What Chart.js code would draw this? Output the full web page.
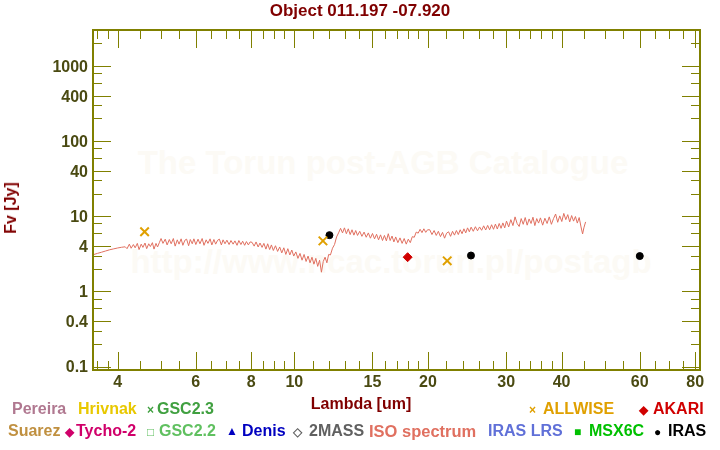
<!DOCTYPE html>
<html><head><meta charset="utf-8">
<script src="https://cdn.jsdelivr.net/npm/chart.js@4/dist/chart.umd.min.js"></script>
<style>
html,body{margin:0;padding:0;background:#fff;}
#wrap{position:relative;width:720px;height:450px;overflow:hidden;font-family:"Liberation Sans",Arial,sans-serif;font-weight:bold;}
#c{position:absolute;left:0;top:0;}
.t{position:absolute;white-space:nowrap;line-height:20px;font-size:16px;}
.s{position:absolute;white-space:nowrap;line-height:20px;font-size:12px;}
.wm{position:absolute;white-space:nowrap;color:rgb(252,250,245);font-size:33px;line-height:40px;transform:translate(-50%,-50%);}
</style></head>
<body><div id="wrap">
<div class="wm" style="left:383px;top:163px">The Torun post-AGB Catalogue</div>
<div class="wm" style="left:391px;top:262px">http://www.ncac.torun.pl/postagb</div>
<canvas id="c" width="720" height="450" style="width:720px;height:450px"></canvas>
<div class="t" style="left:0;width:720px;text-align:center;top:1px;font-size:17px;color:#800000">Object 011.197 -07.920</div>
<div class="t" style="left:11px;top:208px;color:#800000;transform:translate(-50%,-50%) rotate(-90deg)">Fv [Jy]</div>
<div class="t" style="left:361px;top:404px;color:#800000;transform:translate(-50%,-50%)">Lambda [um]</div>

<div class="t" style="left:12px;top:399px;color:#b07890">Pereira</div>
<div class="t" style="left:78px;top:399px;color:#e8c800">Hrivnak</div>
<div class="s" style="left:147px;top:400px;color:#40a040">×</div>
<div class="t" style="left:157px;top:399px;color:#40a040">GSC2.3</div>
<div class="s" style="left:529px;top:400px;color:#e0a000">×</div>
<div class="t" style="left:543px;top:399px;color:#e0a000">ALLWISE</div>
<div class="s" style="left:639px;top:400px;color:#d00000">◆</div>
<div class="t" style="left:653px;top:399px;color:#d00000">AKARI</div>

<div class="t" style="left:8px;top:421px;color:#c09040">Suarez</div>
<div class="s" style="left:65px;top:422px;color:#d0006a">◆</div>
<div class="t" style="left:76px;top:421px;color:#d0006a">Tycho-2</div>
<div class="s" style="left:147px;top:422px;color:#60c060">□</div>
<div class="t" style="left:159px;top:421px;color:#60c060">GSC2.2</div>
<div class="s" style="left:226px;top:421px;color:#0000c0">▲</div>
<div class="t" style="left:242px;top:421px;color:#0000c0">Denis</div>
<div class="s" style="left:293px;top:422px;color:#606060">◇</div>
<div class="t" style="left:309px;top:421px;color:#606060">2MASS</div>
<div class="t" style="left:369px;top:421px;color:#e07060;font-size:16.5px">ISO spectrum</div>
<div class="t" style="left:488px;top:421px;color:#6070d8">IRAS LRS</div>
<div class="s" style="left:574px;top:422px;color:#00c000">■</div>
<div class="t" style="left:589px;top:421px;color:#00c000">MSX6C</div>
<div class="s" style="left:654px;top:422px;color:#000000">●</div>
<div class="t" style="left:668px;top:421px;color:#000000">IRAS</div>
</div>
<script>
// ---- data ----
const isoLambda = [3.52,3.60,3.68,3.76,3.84,3.92,4.00,4.08,4.16,
4.20,4.25,4.29,4.34,4.38,4.43,4.47,4.52,4.56,4.61,4.65,4.70,4.74,4.79,4.83,4.88,4.92,4.97,
5.01,5.06,5.12,5.17,5.23,5.28,5.34,5.39,5.45,5.50,5.56,5.61,5.67,5.72,5.78,5.83,5.89,5.94,
6.00,6.07,6.13,6.20,6.26,6.33,6.39,6.46,6.52,6.59,6.65,6.72,6.78,6.85,6.91,6.98,
7.05,7.13,7.20,7.28,7.35,7.43,7.50,7.58,7.65,7.73,7.80,7.88,7.95,
8.03,8.12,8.20,8.29,8.37,8.46,8.54,8.63,8.71,8.80,8.88,8.97,
9.07,9.17,9.27,9.37,9.47,9.57,9.67,9.77,9.87,9.97,
10.08,10.19,10.30,10.41,10.52,10.63,10.74,10.85,10.96,11.07,11.18,11.29,11.40,11.51,11.62,11.73,11.84,11.95,
12.06,12.19,12.32,12.45,12.58,12.71,12.84,12.97,13.10,13.23,13.36,13.49,13.62,13.75,13.88,
14.04,14.20,14.36,14.52,14.68,14.84,15.00,15.16,15.32,15.48,15.64,15.80,15.96,16.12,16.28,16.44,16.60,16.76,16.92,
17.11,17.30,17.49,17.68,17.87,18.06,18.25,18.44,18.63,18.82,19.01,19.20,19.39,19.58,19.77,19.96,
20.19,20.42,20.65,20.88,21.11,21.34,21.57,21.80,22.03,22.26,22.49,22.72,22.95,23.18,23.41,23.64,23.87,24.10,24.33,24.56,24.79,
25.02,25.30,25.58,25.86,26.14,26.42,26.70,26.98,27.26,27.54,27.82,28.10,28.38,28.66,28.94,29.22,29.50,29.78,
30.06,30.40,30.74,31.08,31.42,31.76,32.10,32.44,32.78,33.12,33.46,33.80,34.14,34.48,34.82,35.16,35.50,35.84,
36.26,36.68,37.10,37.52,37.94,38.36,38.78,39.20,39.62,40.04,40.46,40.88,41.30,41.72,42.14,42.56,42.98,43.40,43.82,44.24,44.60,44.90,45.30];
const isoFlux = [3.07,3.20,3.32,3.45,3.58,3.68,3.78,3.86,3.92,
3.70,4.25,3.75,4.20,3.80,4.35,3.60,4.25,3.85,4.40,3.70,4.30,3.95,4.45,3.65,4.35,3.90,4.50,
5.05,4.35,4.95,4.15,4.90,4.30,5.05,4.00,4.85,4.25,5.00,4.10,4.80,4.95,4.05,4.90,4.30,5.00,
4.20,4.95,4.30,5.05,4.10,4.85,4.35,5.00,4.15,4.90,4.25,4.80,4.95,4.15,4.85,4.30,
4.80,4.20,4.75,4.25,4.70,4.10,4.75,4.20,4.65,4.10,4.60,4.15,4.55,
4.50,4.00,4.55,3.90,4.40,3.85,4.35,3.65,4.30,3.60,4.15,3.50,
4.05,3.40,3.90,3.25,3.80,3.10,3.70,3.05,3.55,2.95,
3.35,2.75,3.20,2.60,3.10,2.50,2.95,2.40,2.85,2.30,2.75,2.15,2.60,1.80,2.50,2.85,2.40,3.10,
3.05,3.75,4.20,5.30,6.00,6.90,6.00,7.00,5.85,6.80,5.70,6.60,5.60,6.45,5.55,
6.30,5.40,6.15,5.25,6.00,5.10,5.90,5.00,5.75,4.85,5.65,4.75,5.55,4.70,5.85,4.75,5.45,4.55,5.30,
4.45,5.15,4.35,5.05,4.25,4.95,4.45,5.35,5.25,6.15,5.95,6.70,6.05,6.80,6.10,6.60,
6.60,5.70,6.45,5.55,6.30,5.35,6.10,5.10,5.95,6.20,5.40,6.30,5.60,6.45,5.70,6.60,5.85,6.80,6.00,7.00,6.20,
7.15,6.30,7.25,6.40,7.20,6.50,7.45,6.55,7.55,6.60,7.70,6.70,7.85,6.75,8.00,6.90,8.15,7.00,
8.60,7.20,9.00,7.50,9.80,8.00,7.30,9.30,7.80,9.60,7.60,9.20,8.00,9.70,7.50,9.30,8.10,9.50,
7.60,9.40,8.00,9.80,7.80,9.30,10.7,8.30,10.1,8.50,10.9,9.00,10.5,8.40,10.2,8.60,9.90,8.10,9.60,7.20,5.80,7.00,8.40];
const allwiseLambda = [4.6, 11.6, 22.1];
const allwiseFlux   = [6.2, 4.7, 2.55];
const irasLambda = [12, 25, 60];
const irasFlux   = [5.6, 3.0, 2.95];
const akariLambda = [18];
const akariFlux   = [2.85];
const xTickValues = [3.6,3.8,4,4.5,5,5.5,6,6.5,7,7.5,8,8.5,9,9.5,10,11,12,13,14,15,16,17,18,19,20,22,24,26,28,30,32,34,36,38,40,45,50,55,60,65,70,75,80];
const xTickLabels = [4,6,8,10,15,20,30,40,60,80];
const yTickValues = [0.1,0.2,0.3,0.4,0.6,0.8,1,2,3,4,6,8,10,20,30,40,60,80,100,200,300,400,600,800,1000,2000,3000];
const yTickLabels = [0.1,0.4,1,4,10,40,100,400,1000];
const xRange = [3.52, 82];
const yRange = [0.09, 3000];

const axisColor = '#808000';
const labelColor = '#4a4a12';
const fontFamily = "'Liberation Sans', Arial, sans-serif";
const pts = (xs, ys) => xs.map((v, i) => ({x: v, y: ys[i]}));

const frame = {
  id: 'frame',
  afterDatasetsDraw(chart) {
    const {ctx, chartArea: a, scales: {x, y}} = chart;
    ctx.save();
    ctx.strokeStyle = axisColor;
    ctx.lineWidth = 1;
    ctx.beginPath();
    xTickValues.forEach(v => {
      const px = Math.round(x.getPixelForValue(v)) + 0.5;
      const L = xTickLabels.includes(v) ? 18 : 9;
      ctx.moveTo(px, a.top); ctx.lineTo(px, a.top + L);
      ctx.moveTo(px, a.bottom); ctx.lineTo(px, a.bottom - L);
    });
    yTickValues.forEach(v => {
      const py = Math.round(y.getPixelForValue(v)) + 0.5;
      const L = yTickLabels.includes(v) ? 18 : 9;
      ctx.moveTo(a.left, py); ctx.lineTo(a.left + L, py);
      ctx.moveTo(a.right, py); ctx.lineTo(a.right - L, py);
    });
    ctx.stroke();
    ctx.lineWidth = 2;
    ctx.strokeRect(a.left, a.top, a.right - a.left, a.bottom - a.top);
    ctx.fillStyle = labelColor;
    ctx.font = 'bold 16px ' + fontFamily;
    ctx.textAlign = 'right';
    ctx.textBaseline = 'middle';
    yTickLabels.forEach(v => {
      ctx.fillText(String(v), a.left - 5, y.getPixelForValue(v) + 1.5);
    });
    ctx.restore();
  }
};

const tickFont = {family: fontFamily, size: 16, weight: 'bold'};

new Chart(document.getElementById('c'), {
  type: 'scatter',
  data: {
    datasets: [
      {label: 'ALLWISE', data: pts(allwiseLambda, allwiseFlux), pointStyle: 'crossRot', pointRadius: 6,
       borderColor: '#e0a000', backgroundColor: '#e0a000', pointBorderWidth: 2, order: 0},
      {label: 'AKARI', data: pts(akariLambda, akariFlux), pointStyle: 'rectRot', pointRadius: 4.5,
       borderColor: '#d00000', backgroundColor: '#d00000', pointBorderWidth: 1, order: 1},
      {label: 'IRAS', data: pts(irasLambda, irasFlux), pointStyle: 'circle', pointRadius: 3.5,
       borderColor: '#000000', backgroundColor: '#000000', pointBorderWidth: 1, order: 2},
      {label: 'ISO spectrum', data: pts(isoLambda, isoFlux), showLine: true, pointRadius: 0,
       borderColor: '#e07060', borderWidth: 1, tension: 0, order: 10}
    ]
  },
  options: {
    responsive: false,
    animation: false,
    devicePixelRatio: 1,
    layout: {padding: {left: 0, right: 20, top: 30, bottom: 0}},
    plugins: {legend: {display: false}, title: {display: false}, tooltip: {enabled: false}},
    scales: {
      x: {
        type: 'logarithmic', position: 'bottom', min: xRange[0], max: xRange[1],
        grid: {display: false, drawTicks: false}, border: {display: false},
        afterBuildTicks: s => { s.ticks = xTickValues.map(v => ({value: v})); },
        afterFit: s => { s.height = 80; },
        ticks: {autoSkip: false, maxRotation: 0, minRotation: 0, padding: 3, color: labelColor, font: tickFont,
          callback: (val, i, ticks) => xTickLabels.includes(ticks[i].value) ? String(ticks[i].value) : ''}
      },
      y: {
        type: 'logarithmic', position: 'left', min: yRange[0], max: yRange[1],
        grid: {display: false, drawTicks: false}, border: {display: false},
        afterBuildTicks: s => { s.ticks = yTickValues.map(v => ({value: v})); },
        afterFit: s => { s.width = 93; },
        ticks: {display: false}
      }
    }
  },
  plugins: [frame]
});
</script>
</body></html>
